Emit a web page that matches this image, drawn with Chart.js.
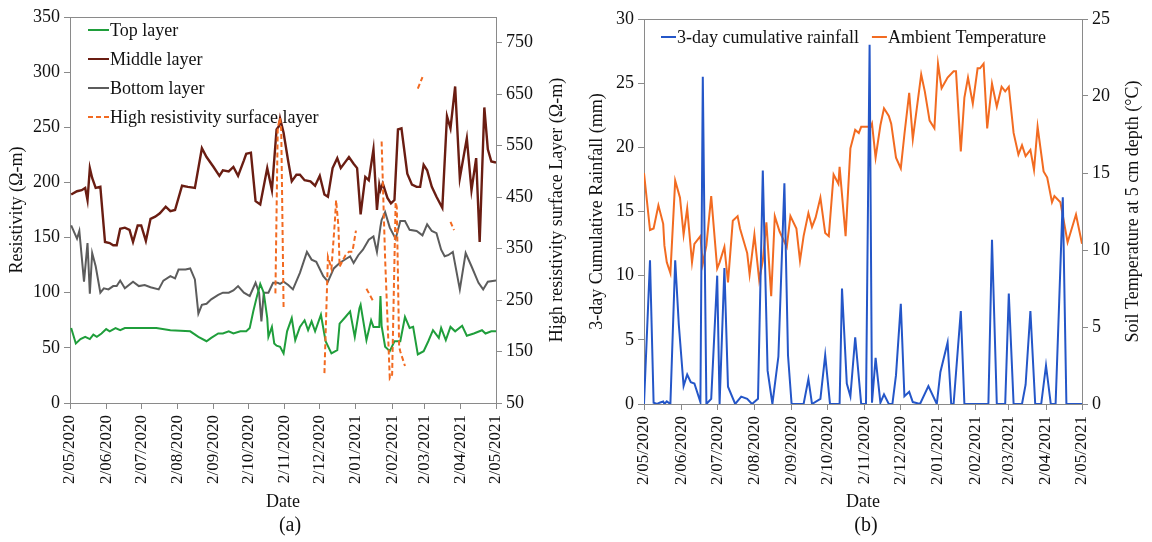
<!DOCTYPE html>
<html>
<head>
<meta charset="utf-8">
<script src="https://cdn.jsdelivr.net/npm/chart.js@4.4.1/dist/chart.umd.min.js"></script>
<style>
  html, body { margin: 0; padding: 0; background: #fff; }
  #wrap { position: relative; width: 1152px; height: 542px; }
  .panel { position: absolute; top: 0; height: 542px; }
  #pa { left: 0; width: 580px; }
  #pb { left: 580px; width: 572px; }
</style>
</head>
<body>
<div id="wrap">
  <div class="panel" id="pa"><canvas id="ca"></canvas></div>
  <div class="panel" id="pb"><canvas id="cb"></canvas></div>
</div>
<script>
// Monthly date ticks shared by both panels (d/mm/yyyy)
const tickLabels = ['2/05/2020','2/06/2020','2/07/2020','2/08/2020','2/09/2020','2/10/2020',
  '2/11/2020','2/12/2020','2/01/2021','2/02/2021','2/03/2021','2/04/2021','2/05/2021'];

// Ticks on the secondary resistivity axis
const hrTicks = [50, 150, 250, 350, 450, 550, 650, 750];

// (a) Resistivity series: day offsets from 2 May 2020 and values (Ω-m)
const topDays = [1,5,9,13,17,20,23,27,31,34,39,43,47,60,74,86,103,110,117,121,127,131,136,140,146,151,154,157,160,163,166,169,170,173,175,177,180,183,186,190,193,197,201,204,207,210,215,219,224,229,231,236,240,244,248,249,254,258,260,263,265,266,267,270,274,278,283,287,291,294,298,303,307,311,316,318,322,326,330,336,340,346,353,356,361,365];
const topRes  = [68,54,58,60,58,62,60,63,67,65,68,66,68,68,68,66,65,60,56,59,63,63,65,63,65,65,68,83,96,108,100,77,60,69,54,52,51,45,65,77,57,69,75,66,74,65,80,56,45,48,72,78,83,60,86,89,57,75,69,69,69,97,70,51,47,56,56,78,68,69,44,47,56,66,59,68,57,69,65,70,61,63,66,63,65,65];

const midDays = [1,6,10,13,15,17,19,22,26,30,34,37,40,43,47,51,54,58,61,65,69,73,77,82,86,90,96,101,107,113,117,123,128,131,136,140,144,149,151,155,159,163,169,173,177,179,180,183,187,190,194,197,201,206,210,214,218,221,225,229,232,239,243,246,249,253,256,260,263,265,266,268,272,275,278,281,284,289,293,297,300,303,306,310,314,319,323,326,330,334,340,344,348,351,355,358,361,365];
const midRes  = [189,192,193,195,184,213,204,195,196,146,145,143,143,158,159,157,146,161,161,147,167,169,172,178,174,175,197,196,195,231,223,214,206,211,210,214,206,220,226,227,183,180,213,193,248,251,258,245,219,201,207,207,202,201,197,206,189,187,213,222,213,223,217,213,171,205,202,230,175,198,193,199,186,181,184,248,249,208,198,196,196,216,211,196,187,177,260,249,287,204,240,193,222,146,268,230,219,218];

const botDays = [1,6,8,12,15,17,19,22,26,29,33,37,40,43,47,54,59,64,69,76,80,86,90,93,99,103,107,110,113,117,121,127,131,136,140,144,149,154,159,162,164,166,170,174,178,180,183,187,191,197,203,207,211,217,221,226,231,237,240,243,247,251,256,260,263,266,267,270,274,279,283,287,291,297,302,306,310,314,318,321,324,328,334,339,344,350,354,358,365];
const botRes  = [161,149,156,110,145,99,136,124,100,104,103,106,106,111,104,110,106,107,105,103,111,115,113,121,121,122,112,81,89,90,94,98,100,100,102,106,100,97,109,100,74,100,100,109,109,108,110,107,103,118,137,130,128,115,110,122,127,131,133,127,134,139,148,151,137,160,166,173,159,149,165,165,157,156,152,162,156,154,139,133,134,137,103,136,124,109,103,110,111];

// High resistivity surface layer, only recorded in short runs (null = no reading)
const hrDays = [176,178,180,181,183,200,218,221,224,227,228,230,231,236,239,242,245,250,254,260,263,267,270,274,276,279,280,282,283,287,292,298,302,315,326,329];
const hrRes  = [263,585,604,580,235,null,108,334,311,405,444,393,315,337,344,344,385,null,272,247,null,558,330,98,105,440,430,160,150,122,null,661,683,null,402,386];

// (b) 3-day cumulative rainfall (mm) and soil temperature (°C)
const rainDays = [0,5,8,11,13,16,17,19,22,26,29,33,36,39,42,47,49,52,56,61,63,67,70,76,81,86,90,95,99,103,107,112,117,120,123,133,137,140,147,151,155,163,165,169,172,176,181,185,188,190,193,197,200,204,207,210,214,217,221,224,230,237,244,247,253,256,258,264,267,287,290,294,301,304,308,315,318,322,326,331,335,339,343,346,349,352,365];
const rain     = [0,11.2,0.1,0,0.1,0.2,0,0.2,0,11.2,6.2,1.4,2.3,1.7,1.6,0.15,25.5,0,0.4,10.0,0,10.6,1.35,0,0.57,0.4,0,0.4,18.2,2.6,0,3.7,17.2,3.8,0,0,1.95,0,0.4,3.8,0,0,9.0,1.6,0.6,5.2,0,0,28.0,0.1,3.6,0.1,0.75,0,0,2.25,7.8,0.6,0.95,0.15,0,1.4,0,2.5,4.8,0,0,7.25,0,0,12.8,0,0,8.6,0,0,1.5,7.25,0,0,3.0,0,0,8,16.1,0,0];

const tempDays = [0,5,8,12,16,17,19,22,26,30,33,36,40,42,47,49,52,56,61,63,67,70,74,78,80,86,88,92,96,99,102,106,109,113,119,122,127,130,133,137,140,143,147,151,154,158,162,163,168,172,176,179,181,189,190,193,197,200,204,206,210,214,217,221,224,231,234,238,242,245,248,253,258,260,264,267,270,274,278,280,283,286,290,294,298,301,304,308,312,315,318,322,325,328,333,336,340,342,347,353,360,365];
const temp     = [15.0,11.3,11.4,12.9,11.7,10.3,9.2,8.5,14.5,13.4,11.0,12.7,9.2,10.4,10.9,9.1,10.3,13.5,8.8,9.2,10.2,7.9,11.9,12.2,11.4,9.8,8.4,11.0,8.05,9.3,11.8,7.0,12.2,11.2,10.2,12.2,11.4,9.3,10.9,12.4,11.5,12.1,13.4,11.1,10.9,14.9,14.3,15.4,10.9,16.6,17.8,17.6,18.0,18.0,18.2,16.0,18.1,19.2,18.7,18.2,16.0,15.3,17.5,20.2,17.2,21.4,20.3,18.4,17.9,22.1,20.5,21.2,21.6,21.6,16.4,19.9,21.2,19.5,21.8,21.8,22.1,17.9,20.8,19.3,20.6,20.3,20.6,17.6,16.2,16.8,16.1,16.5,15.2,18.0,15.1,14.7,13.1,13.5,13.1,10.5,12.3,10.4];

// ---------------------------------------------------------------------------
const FONT = "'Liberation Serif', 'Times New Roman', serif";
const INK = '#111111';
const AXIS_GREY = '#8a8a8a';
Chart.defaults.font.family = FONT;
Chart.defaults.color = INK;

// Convert the d/mm/yyyy tick labels to day offsets from the first one
function dayOf(label) {
  const [d, m, y] = label.split('/').map(Number);
  return Date.UTC(y, m - 1, d) / 86400000;
}
const day0 = dayOf(tickLabels[0]);
const tickDays = tickLabels.map(l => dayOf(l) - day0);

const pts = (days, vals) => days.map((d, i) => ({ x: d, y: vals[i] }));

function dateAxis(height) {
  return {
    type: 'linear', position: 'bottom',
    min: tickDays[0], max: tickDays[tickDays.length - 1],
    afterBuildTicks: s => { s.ticks = tickDays.map(v => ({ value: v })); },
    ticks: { autoSkip: false, minRotation: 90, maxRotation: 90, padding: 6,
             font: { size: 17 }, color: INK, callback: (v, i) => tickLabels[i] },
    grid: { drawOnChartArea: false, drawTicks: true, tickLength: 6, color: AXIS_GREY },
    border: { color: AXIS_GREY, width: 1 },
    title: { display: true, text: 'Date', font: { size: 18 }, color: INK, padding: { top: 0, bottom: 1 } },
    afterFit: s => { s.height = height; }
  };
}

// Plain frame line along the top of the plot area
function frameTop() {
  return {
    type: 'linear', position: 'top', min: 0, max: 1,
    ticks: { display: false },
    grid: { display: false, drawTicks: false },
    border: { display: true, color: AXIS_GREY, width: 1 },
    afterFit: s => { s.height = 0; }
  };
}

function valueAxis(pos, min, max, step, width, title) {
  const ax = {
    type: 'linear', position: pos, min: min, max: max,
    ticks: { stepSize: step, font: { size: 18 }, color: INK, padding: 4 },
    grid: { drawOnChartArea: false, drawTicks: true, tickLength: 6, color: AXIS_GREY },
    border: { color: AXIS_GREY, width: 1 },
    afterFit: s => { s.width = width; }
  };
  if (title) ax.title = { display: true, text: title, font: { size: 18 }, color: INK, padding: { top: 6, bottom: 0 } };
  return ax;
}

// Right-hand axis title, reading bottom-to-top
const rightTitle = {
  id: 'rightTitle',
  afterDraw(chart, args, o) {
    const s = chart.scales[o.axis];
    const ctx = chart.ctx;
    ctx.save();
    ctx.font = `18px ${FONT}`;
    ctx.fillStyle = INK;
    ctx.textAlign = 'center';
    ctx.textBaseline = 'middle';
    ctx.translate(s.right - o.inset, (s.top + s.bottom) / 2 + (o.shift || 0));
    ctx.rotate(-Math.PI / 2);
    ctx.fillText(o.text, 0, 0);
    ctx.restore();
  }
};

// Legend drawn inside the plot area, without a box
const insideLegend = {
  id: 'insideLegend',
  afterDatasetsDraw(chart, args, o) {
    const ctx = chart.ctx, a = chart.chartArea;
    ctx.save();
    ctx.font = `18px ${FONT}`;
    ctx.textBaseline = 'middle';
    let x = a.left + o.x, y = a.top + o.y;
    chart.data.datasets.forEach(ds => {
      ctx.strokeStyle = ds.borderColor;
      ctx.lineWidth = 2;
      ctx.setLineDash(ds.borderDash || []);
      ctx.beginPath();
      ctx.moveTo(x, y);
      ctx.lineTo(x + o.line, y);
      ctx.stroke();
      ctx.setLineDash([]);
      ctx.fillStyle = INK;
      ctx.fillText(ds.label, x + o.line + 1, y + 1);
      if (o.horizontal) x += o.line + 1 + ctx.measureText(ds.label).width + o.gap;
      else y += o.row;
    });
    ctx.restore();
  }
};

const lineBase = { pointRadius: 0, pointHoverRadius: 0, tension: 0, fill: false, borderWidth: 2, xAxisID: 'x' };

// (a) Resistivity of the soil layers
new Chart(document.getElementById('ca'), {
  type: 'line',
  data: {
    datasets: [
      { ...lineBase, label: 'Top layer', data: pts(topDays, topRes), borderColor: '#1f9e3b', yAxisID: 'y', order: 1 },
      { ...lineBase, label: 'Middle layer', data: pts(midDays, midRes), borderColor: '#6a1d12', borderWidth: 2.4, yAxisID: 'y', order: 2 },
      { ...lineBase, label: 'Bottom layer', data: pts(botDays, botRes), borderColor: '#5c5c5c', yAxisID: 'y', order: 3 },
      { ...lineBase, label: 'High resistivity surface layer', data: pts(hrDays, hrRes), borderColor: '#f26a21',
        borderDash: [5, 3], yAxisID: 'y2', order: 0 }
    ]
  },
  options: {
    responsive: true, maintainAspectRatio: false, animation: false, devicePixelRatio: 1,
    layout: { padding: { top: 17, left: 0, right: 0, bottom: 0 } },
    scales: {
      x: dateAxis(111),
      xTop: frameTop(),
      y: valueAxis('left', 0, 350, 50, 70, 'Resistivity (Ω-m)'),
      y2: Object.assign(valueAxis('right', 50, 800, 100, 84, null), {
        afterBuildTicks: s => { s.ticks = hrTicks.map(v => ({ value: v })); }
      })
    },
    plugins: {
      legend: { display: false },
      tooltip: { enabled: false },
      title: { display: true, position: 'bottom', text: '(a)', color: INK,
               font: { size: 20, weight: 'normal' }, padding: { top: 0, bottom: 4 } },
      insideLegend: { x: 18, y: 13, line: 21, row: 29 },
      rightTitle: { axis: 'y2', inset: 23, text: 'High resistivity surface Layer (Ω-m)' }
    }
  },
  plugins: [insideLegend, rightTitle]
});

// (b) Rainfall and soil temperature
new Chart(document.getElementById('cb'), {
  type: 'line',
  data: {
    datasets: [
      { ...lineBase, label: '3-day cumulative rainfall', data: pts(rainDays, rain), borderColor: '#2456c8', yAxisID: 'y' },
      { ...lineBase, label: 'Ambient Temperature', data: pts(tempDays, temp), borderColor: '#f26b21', yAxisID: 'y2' }
    ]
  },
  options: {
    responsive: true, maintainAspectRatio: false, animation: false, devicePixelRatio: 1,
    layout: { padding: { top: 19, left: 0, right: 0, bottom: 0 } },
    scales: {
      x: dateAxis(110),
      xTop: frameTop(),
      y: valueAxis('left', 0, 30, 5, 64, '3-day Cumulative Rainfall (mm)'),
      y2: valueAxis('right', 0, 25, 5, 70, null)
    },
    plugins: {
      legend: { display: false },
      tooltip: { enabled: false },
      title: { display: true, position: 'bottom', text: '(b)', color: INK,
               font: { size: 20, weight: 'normal' }, padding: { top: 0, bottom: 4 } },
      insideLegend: { x: 17, y: 18, line: 15, gap: 13, horizontal: true },
      rightTitle: { axis: 'y2', inset: 19, text: 'Soil Temperature at 5 cm depth (°C)' }
    }
  },
  plugins: [insideLegend, rightTitle]
});
</script>
</body>
</html>
